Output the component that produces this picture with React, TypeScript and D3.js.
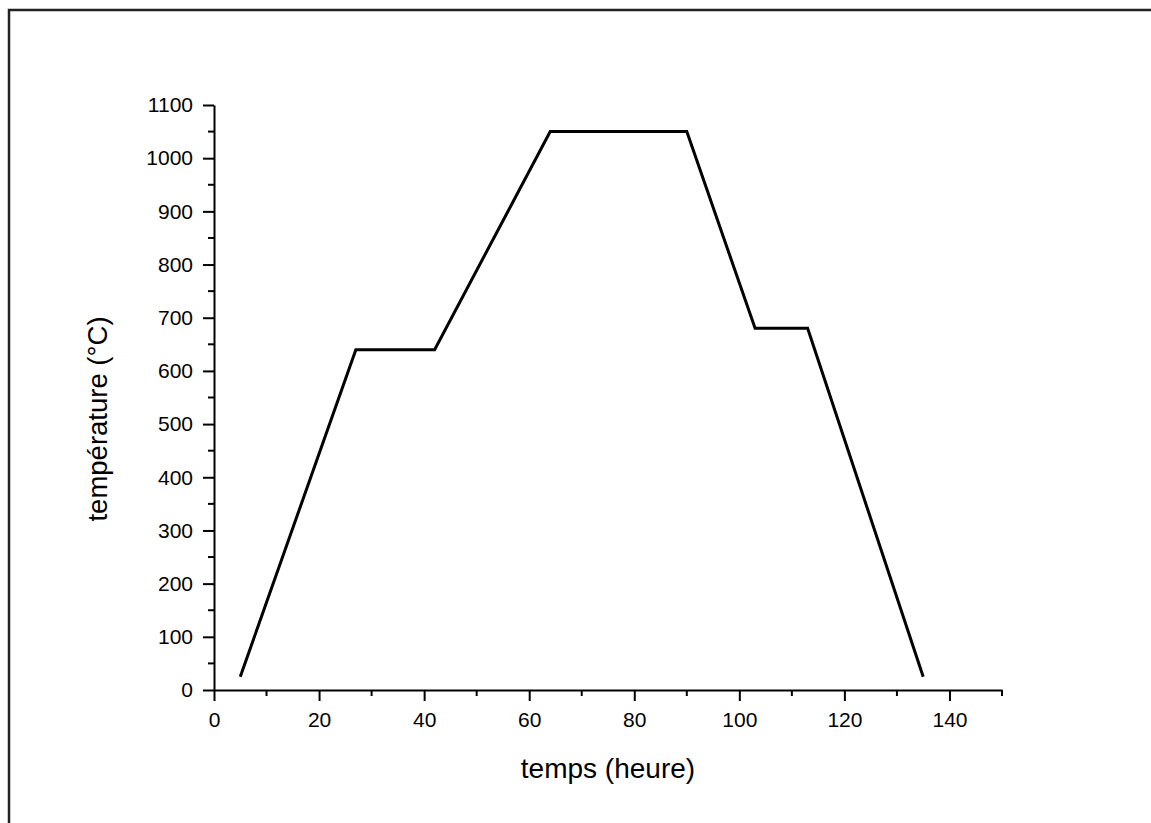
import { useEffect, useRef } from "react";
import * as d3 from "d3";

// heat treatment profile
const timeHours = [5, 27, 42, 64, 90, 103, 113, 135];
const temperatureC = [25, 640, 640, 1050, 1050, 680, 680, 25];

const xMajorTicks = [0, 20, 40, 60, 80, 100, 120, 140];
const xMinorTicks = [10, 30, 50, 70, 90, 110, 130, 150];
const yMajorTicks = [0, 100, 200, 300, 400, 500, 600, 700, 800, 900, 1000, 1100];
const yMinorTicks = [50, 150, 250, 350, 450, 550, 650, 750, 850, 950, 1050];

export default function App() {
  const chartRef = useRef<SVGSVGElement | null>(null);

  useEffect(() => {
    const width = 1151;
    const height = 823;
    const font = "'Liberation Sans', Arial, sans-serif";

    const svg = d3.select(chartRef.current);
    svg.selectAll("*").remove();

    svg
      .append("rect")
      .attr("width", width)
      .attr("height", height)
      .attr("fill", "#ffffff");

    // outer frame (only left / top edges are visible in the picture)
    svg
      .append("rect")
      .attr("x", 9)
      .attr("y", 10)
      .attr("width", width + 20)
      .attr("height", height + 20)
      .attr("fill", "none")
      .attr("stroke", "#222")
      .attr("stroke-width", 2.5);

    const x = d3.scaleLinear().domain([0, 150]).range([214, 1002]);
    const y = d3.scaleLinear().domain([0, 1100]).range([690, 105]);

    // x axis
    const xAxis = svg
      .append("g")
      .attr("transform", `translate(0, ${y(0)})`)
      .call(
        d3
          .axisBottom(x)
          .tickValues(xMajorTicks)
          .tickFormat(d3.format("d"))
          .tickSize(11)
          .tickSizeOuter(0)
          .tickPadding(11)
      );
    xAxis
      .selectAll(".minor")
      .data(xMinorTicks)
      .enter()
      .append("line")
      .attr("class", "minor")
      .attr("x1", (d) => x(d))
      .attr("x2", (d) => x(d))
      .attr("y1", 0)
      .attr("y2", 6);

    // y axis
    const yAxis = svg
      .append("g")
      .attr("transform", `translate(${x(0)}, 0)`)
      .call(
        d3
          .axisLeft(y)
          .tickValues(yMajorTicks)
          .tickFormat(d3.format("d"))
          .tickSize(11)
          .tickSizeOuter(0)
          .tickPadding(10)
      );
    yAxis
      .selectAll(".minor")
      .data(yMinorTicks)
      .enter()
      .append("line")
      .attr("class", "minor")
      .attr("x1", -6)
      .attr("x2", 0)
      .attr("y1", (d) => y(d))
      .attr("y2", (d) => y(d));

    [xAxis, yAxis].forEach((ax) => {
      ax.attr("font-family", null).attr("font-size", null);
      ax.select(".domain").attr("stroke", "#000").attr("stroke-width", 2);
      ax.selectAll("line").attr("stroke", "#000").attr("stroke-width", 2);
      ax.selectAll("text")
        .attr("fill", "#000")
        .style("font-family", font)
        .style("font-size", "21px");
    });

    // temperature curve
    const line = d3
      .line<number>()
      .x((d) => x(d))
      .y((_, i) => y(temperatureC[i]));

    svg
      .append("path")
      .datum(timeHours)
      .attr("d", line)
      .attr("fill", "none")
      .attr("stroke", "#000")
      .attr("stroke-width", 3)
      .attr("stroke-linejoin", "miter");

    // axis titles
    svg
      .append("text")
      .attr("x", (x(0) + x(150)) / 2)
      .attr("y", 778)
      .attr("text-anchor", "middle")
      .style("font-family", font)
      .style("font-size", "28px")
      .text("temps (heure)");

    svg
      .append("text")
      .attr("transform", `translate(107, 419) rotate(-90)`)
      .attr("text-anchor", "middle")
      .style("font-family", font)
      .style("font-size", "27.5px")
      .text("température (°C)");
  }, []);

  return (
    <svg
      ref={chartRef}
      width="1151"
      height="823"
      style={{ position: "absolute", left: 0, top: 0 }}
    />
  );
}
